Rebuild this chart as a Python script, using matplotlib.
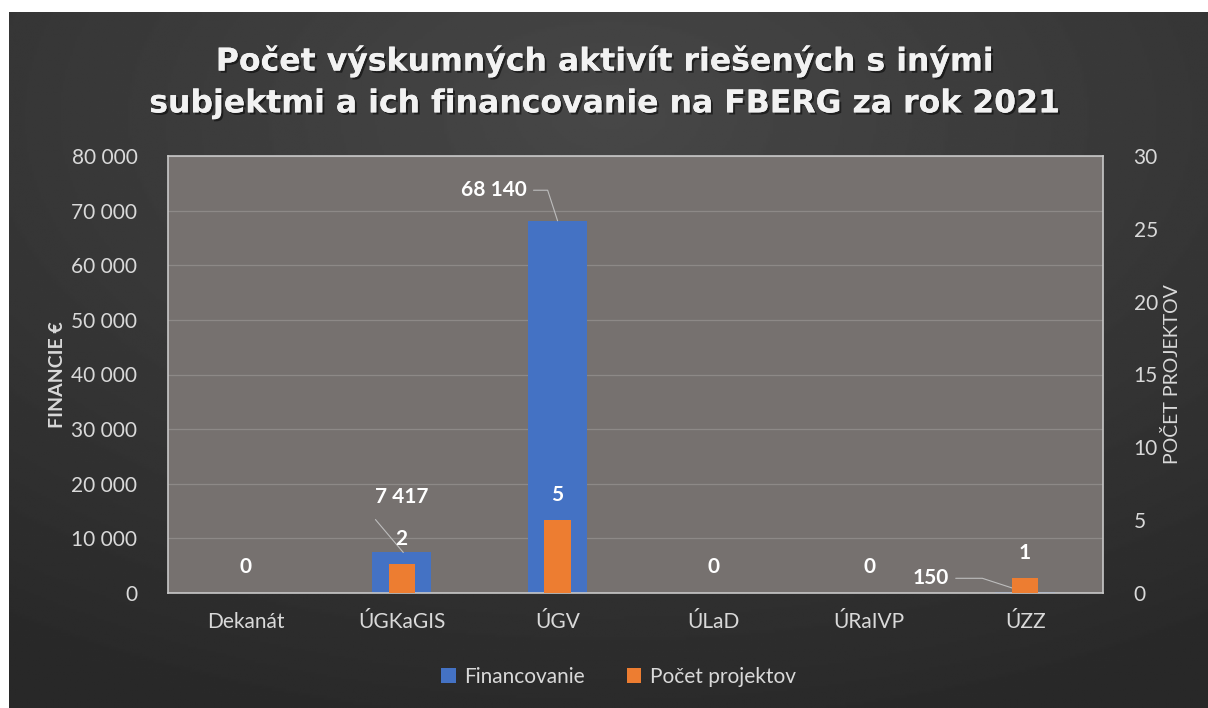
import numpy as np
import matplotlib.pyplot as plt
import matplotlib.patheffects as pe

plt.rcParams['font.family'] = ['Lato', 'DejaVu Sans']

kategorie = ['Dekanát', 'ÚGKaGIS', 'ÚGV', 'ÚLaD', 'ÚRaIVP', 'ÚZZ']
financovanie = [0, 7417, 68140, 0, 0, 150]
pocet_projektov = [0, 2, 5, 0, 0, 1]
lave_ticky = [0, 10000, 20000, 30000, 40000, 50000, 60000, 70000, 80000]
prave_ticky = [0, 5, 10, 15, 20, 25, 30]

def fmt(v):
    return f'{v:,}'.replace(',', ' ')

svetla = '#d9d9d9'
modra = '#4472c4'
oranzova = '#ed7d31'

fig = plt.figure(figsize=(12.08, 7.08), dpi=100)
fig.patch.set_facecolor('white')

# tmave pozadie s jemnym gradientom
bg = fig.add_axes([9 / 1208, 0, 1 - 9 / 1208, 1 - 12 / 708])
yy, xx = np.mgrid[0:1:300j, 0:1:500j]
r = np.sqrt(((xx - 0.5) / 0.9) ** 2 + ((yy - 0.15) / 0.9) ** 2)
g = np.clip(1 - r, 0, 1)
bg.imshow(0.16 + 0.12 * g, cmap='gray', vmin=0, vmax=1, aspect='auto', extent=[0, 1, 1, 0])
bg.set_axis_off()

ax = fig.add_axes([168 / 1208, 1 - 593 / 708, 935 / 1208, 437 / 708])
ax.set_facecolor('#76716f')
x = np.arange(len(kategorie))

b1 = ax.bar(x, financovanie, width=0.38, color=modra, zorder=2, label='Financovanie')
ax.set_ylim(0, 80000)
ax.set_xlim(-0.5, len(kategorie) - 0.5)
ax.set_yticks(lave_ticky)
ax.set_yticklabels([fmt(v) for v in lave_ticky])
ax.set_xticks(x)
ax.set_xticklabels(kategorie)
ax.grid(axis='y', color='#8d8987', lw=0.9, zorder=1)
ax.tick_params(length=0, colors=svetla, labelsize=15)
ax.tick_params(axis='y', pad=22)
ax.tick_params(axis='x', pad=14)
for s in ax.spines.values():
    s.set_color('#c8c8c8')
    s.set_linewidth(1.2)
ax.set_ylabel('FINANCIE €', color=svetla, fontsize=14, fontweight='bold', labelpad=4)

ax2 = ax.twinx()
b2 = ax2.bar(x, pocet_projektov, width=0.17, color=oranzova, zorder=3, label='Počet projektov')
ax2.set_ylim(0, 30)
ax2.set_yticks(prave_ticky)
ax2.tick_params(length=0, colors=svetla, labelsize=15, pad=22)
for s in ax2.spines.values():
    s.set_visible(False)
ax2.set_ylabel('POČET PROJEKTOV', color=svetla, fontsize=14, labelpad=4)

lbl = dict(color='white', fontsize=15, fontweight='bold', ha='center', va='center',
           textcoords='offset points')

def ciara(conn='arc3'):
    return dict(arrowstyle='-', color='#bdbdbd', lw=0.8, shrinkA=3, shrinkB=0,
                connectionstyle=conn)

# popisky financovania
for i, v in enumerate(financovanie):
    if v == 0:
        ax.annotate(fmt(v), (i, v), xytext=(0, 19), **lbl)
ax.annotate(fmt(financovanie[1]), (1, financovanie[1]), xytext=(0, 40), **lbl)
ax.annotate('', (1.01, financovanie[1]), xytext=(-22, 26), textcoords='offset points', arrowprops=ciara())
ax.annotate(fmt(financovanie[2]), (2, financovanie[2]), xytext=(-46, 22),
            arrowprops=ciara('angle,angleA=0,angleB=108,rad=0'), **lbl)
ax.annotate(fmt(financovanie[5]), (5, financovanie[5]), xytext=(-68, 10),
            arrowprops=ciara('angle,angleA=0,angleB=162,rad=0'), **lbl)

# popisky poctu projektov
for i, v in enumerate(pocet_projektov):
    if v > 0:
        ax2.annotate(str(v), (i, v), xytext=(0, 18), **lbl)

fig.text(0.5, 1 - 82 / 708, 'Počet výskumných aktivít riešených s inými\nsubjektmi a ich financovanie na FBERG za rok 2021',
         ha='center', va='center', color='#f2f2f2', fontsize=22.7, fontweight='bold',
         family='DejaVu Sans', linespacing=1.45,
         path_effects=[pe.withSimplePatchShadow(offset=(1.5, -1.5), shadow_rgbFace='black', alpha=0.5), pe.Normal()])

leg = fig.legend([b1, b2], ['Financovanie', 'Počet projektov'], loc='center',
                 bbox_to_anchor=(0.512, 1 - 677 / 708), ncol=2, frameon=False,
                 fontsize=15, labelcolor=svetla, handlelength=0.7, handleheight=0.7,
                 handletextpad=0.4, columnspacing=2.0)

fig.savefig('out.png', dpi=100)
